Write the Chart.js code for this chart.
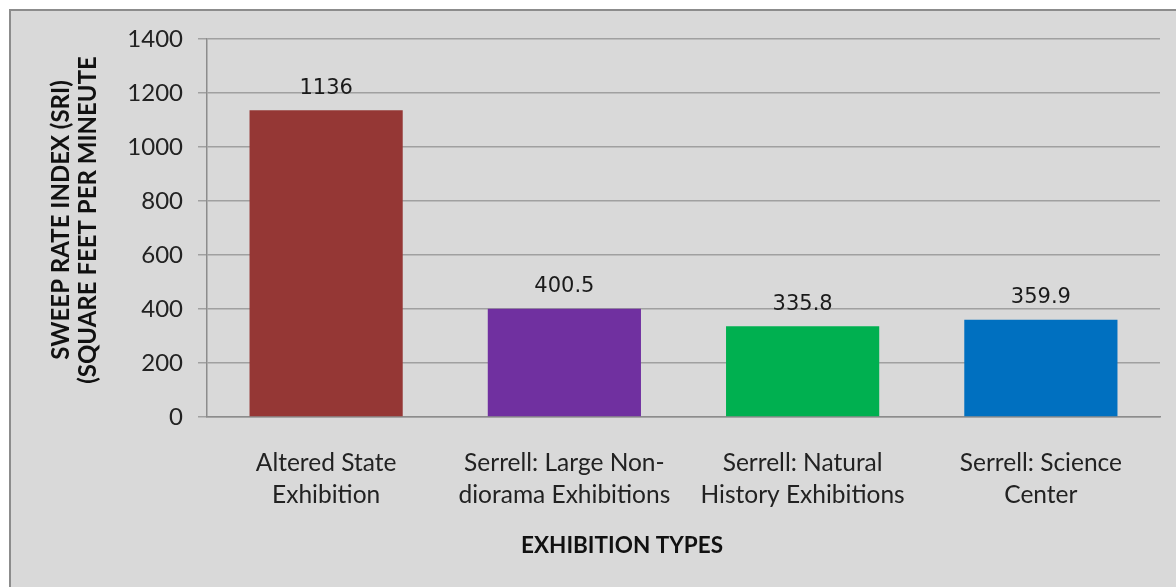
<!DOCTYPE html>
<html>
<head>
<meta charset="utf-8">
<script src="https://cdn.jsdelivr.net/npm/chart.js@4.4.1/dist/chart.umd.min.js"></script>
<style>
  html, body { margin: 0; padding: 0; background: #ffffff; }
  #wrap { width: 1176px; height: 587px; position: relative; }
</style>
</head>
<body>
<div id="wrap"><canvas id="c" width="1176" height="587"></canvas></div>
<script>
const categories = [
  ["Altered State", "Exhibition"],
  ["Serrell: Large Non-", "diorama Exhibitions"],
  ["Serrell: Natural", "History Exhibitions"],
  ["Serrell: Science", "Center"]
];
const values = [1136, 400.5, 335.8, 359.9];
const valueLabels = ["1136", "400.5", "335.8", "359.9"];
const barColors = ["#953735", "#7030a0", "#00b050", "#0070c0"];
const yTitleLines = ["SWEEP RATE INDEX (SRI)", "(SQUARE FEET PER MINEUTE"];
const xTitle = "EXHIBITION TYPES";
const yMin = 0, yMax = 1400, yStep = 200;

const bgPlugin = {
  id: 'bg',
  beforeDraw(chart) {
    const ctx = chart.ctx;
    ctx.save();
    ctx.fillStyle = '#ffffff';
    ctx.fillRect(0, 0, chart.width, chart.height);
    ctx.fillStyle = '#d9d9d9';
    ctx.fillRect(10, 10, chart.width, chart.height);
    ctx.strokeStyle = '#8c8c8c';
    ctx.lineWidth = 2;
    ctx.beginPath();
    ctx.moveTo(10, chart.height + 5);
    ctx.lineTo(10, 10);
    ctx.lineTo(chart.width + 5, 10);
    ctx.stroke();
    ctx.restore();
  }
};

const labelPlugin = {
  id: 'labels',
  afterDatasetsDraw(chart) {
    const ctx = chart.ctx;
    const meta = chart.getDatasetMeta(0);
    ctx.save();
    ctx.font = '21px "DejaVu Sans"';
    ctx.fillStyle = '#1a1a1a';
    ctx.textAlign = 'center';
    ctx.textBaseline = 'middle';
    meta.data.forEach((bar, i) => {
      ctx.fillText(valueLabels[i], bar.x, bar.y - 22);
    });
    ctx.restore();
  }
};

const titlePlugin = {
  id: 'titles',
  afterDraw(chart) {
    const ctx = chart.ctx;
    ctx.save();
    ctx.fillStyle = '#111111';
    ctx.textAlign = 'center';
    ctx.textBaseline = 'middle';
    ctx.font = 'bold 22.5px Lato';
    ctx.fillText(xTitle, 622, 546);
    ctx.translate(0, 220);
    ctx.rotate(-Math.PI / 2);
    ctx.font = 'bold 24px Lato';
    ctx.fillText(yTitleLines[0], 0, 61);
    ctx.fillText(yTitleLines[1], 0, 88);
    ctx.restore();
  }
};

new Chart(document.getElementById('c'), {
  type: 'bar',
  data: {
    labels: categories,
    datasets: [{
      data: values,
      backgroundColor: barColors,
      borderWidth: 0,
      categoryPercentage: 1,
      barPercentage: 0.643
    }]
  },
  options: {
    responsive: false,
    animation: false,
    devicePixelRatio: 1,
    layout: { padding: { left: 0, right: 16, top: 39, bottom: 0 } },
    plugins: { legend: { display: false }, tooltip: { enabled: false } },
    scales: {
      y: {
        min: yMin, max: yMax,
        ticks: { stepSize: yStep, font: { family: 'Lato', size: 24 }, color: '#222222', padding: 15,
                 callback: (v) => String(v) },
        grid: { color: '#a0a0a0', lineWidth: 1.5, tickLength: 9 },
        border: { color: '#8c8c8c', width: 1.5 },
        afterFit(s) { s.width = 207; }
      },
      x: {
        ticks: { font: { family: 'Lato', size: 24.5, lineHeight: 1.27 }, color: '#222222', padding: 23, maxRotation: 0, autoSkip: false },
        grid: { display: false },
        border: { color: '#8c8c8c', width: 1.5 },
        afterFit(s) { s.height = 170; }
      }
    }
  },
  plugins: [bgPlugin, labelPlugin, titlePlugin]
});
</script>
</body>
</html>
